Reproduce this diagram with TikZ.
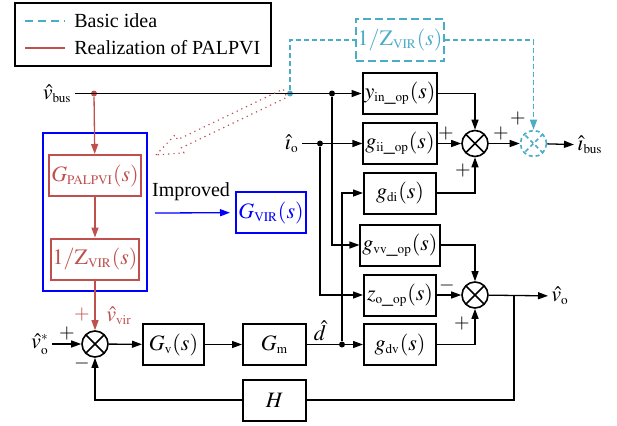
\documentclass[tikz,border=0pt]{standalone}
\usepackage{mathptmx}
\usepackage{fontspec}
\setmainfont{Liberation Serif}
\usetikzlibrary{arrows.meta}
\DeclareMathSizes{11}{11}{6.6}{5}
\definecolor{palred}{HTML}{C0504D}
\definecolor{idcyan}{HTML}{4BACC6}

\begin{document}
\begin{tikzpicture}[
    x=0.5pt, y=-0.5pt,
    wire/.style={line width=0.65pt},
    sig/.style={wire, -{Triangle[length=5pt,width=3.5pt]}},
    block/.style={draw, line width=1pt, minimum width=36pt,
        minimum height=20.5pt, inner sep=1pt, font=\fontsize{11}{13}\selectfont},
    sumcross/.style={},
    sum/.style={circle, draw, line width=0.8pt, minimum size=13pt, inner sep=0pt,
        path picture={\draw[line width=0.8pt, sumcross]
            (path picture bounding box.south west) -- (path picture bounding box.north east)
            (path picture bounding box.north west) -- (path picture bounding box.south east);}},
    dot/.style={circle, fill, inner sep=0pt, minimum size=3pt},
    lbl/.style={inner sep=1.5pt},
    sigl/.style={lbl, font=\fontsize{11}{13}\selectfont},
    redwire/.style={wire, palred},
    redsig/.style={sig, palred},
    redblock/.style={block, draw=palred, text=palred, minimum width=44pt},
    cyanwire/.style={wire, idcyan, dash pattern=on 2.5pt off 1.5pt},
    cyansig/.style={cyanwire, -{Triangle[length=5pt,width=3.5pt]}},
    cyanblock/.style={block, draw=idcyan, text=idcyan, dash pattern=on 4pt off 2pt,
        minimum width=42.5pt, minimum height=21pt}
]
    \useasboundingbox (0,0) rectangle (617,425);

    % legend
    \node[draw, line width=1pt, anchor=north west, minimum width=128pt,
        minimum height=31.5pt] (legend) at (14,2) {};
    \draw[idcyan, line width=0.65pt, dash pattern=on 4pt off 2.5pt] (25,21) -- (65,21);
    \draw[redwire] (25,48) -- (65,48);
    \node[lbl, anchor=west] (basic) at (71,21) {Basic idea};
    \node[lbl, anchor=west] (real) at (71,48) {Realization of PALPVI};

    % plant blocks
    \node[block] (yin) at (400,93.5) {$y_{\mathrm{in\_op}}(s)$};
    \node[block] (gii) at (400,143.5) {$g_{\mathrm{ii\_op}}(s)$};
    \node[block] (gdi) at (400,193) {$g_{\mathrm{di}}(s)$};
    \node[block] (gvv) at (400,245) {$g_{\mathrm{vv\_op}}(s)$};
    \node[block] (zo) at (400,295) {$z_{\mathrm{o\_op}}(s)$};
    \node[block] (gdv) at (400,344.5) {$g_{\mathrm{dv}}(s)$};
    \node[sum] (sumi) at (475,143.5) {};
    \node[sum] (sumv) at (475,295) {};
    \node[sum, draw=idcyan, dash pattern=on 2pt off 1.5pt,
        sumcross/.style={idcyan, dash pattern=on 2pt off 1.5pt}] (sumvir) at (533.5,143.5) {};

    % controller blocks
    \node[sum] (sumref) at (95,344) {};
    \node[block, minimum width=30.5pt] (gv) at (173.5,344.5) {$G_{\mathrm{v}}(s)$};
    \node[block, minimum width=31.5pt] (gm) at (274.5,344.5) {$G_{\mathrm{m}}$};
    \node[block, minimum width=31.5pt] (h) at (274.5,400) {$H$};

    % PALPVI path
    \node[draw=blue, line width=0.8pt, minimum width=52pt, minimum height=79pt] (realbox) at (95,212) {};
    \node[redblock] (gpal) at (95,175.5) {$G_{\mathrm{PALPVI}}(s)$};
    \node[redblock] (zinv) at (95,259) {$1/\mathrm{Z}_{\mathrm{VIR}}(s)$};
    \node[block, draw=blue, text=blue, minimum width=35pt] (gvir) at (271,212.5) {$G_{\mathrm{VIR}}(s)$};
    \node[lbl] (improved) at (191,192) {Improved};
    \coordinate (impstart) at (155,213);
    \node[cyanblock] (zc) at (400,40) {$1/\mathrm{Z}_{\mathrm{VIR}}(s)$};

    % signals
    \node[sigl, anchor=east] (vbus) at (75,93.5) {$\hat{v}_{\mathrm{bus}}$};
    \node[sigl, anchor=east] (io) at (302,143.5) {$\hat{\imath}_{\mathrm{o}}$};
    \node[sigl, anchor=west] (ibus) at (574,145) {$\hat{\imath}_{\mathrm{bus}}$};
    \node[sigl, anchor=west] (vo) at (548,296) {$\hat{v}_{\mathrm{o}}$};
    \node[sigl, anchor=east] (vref) at (52,344) {$\hat{v}_{\mathrm{o}}^{*}$};
    \node[sigl] (dhat) at (320,331) {$\hat{d}$};
    \node[sigl, text=palred] (vvir) at (119,316) {$\hat{v}_{\mathrm{vir}}$};

    \node[dot, palred] (redtap) at (94,93.5) {};
    \node[dot, idcyan] (cyantap) at (290,93.5) {};
    \node[dot] (ytap) at (332,93.5) {};
    \node[dot] (itap) at (320,143.5) {};
    \node[dot] (dtap) at (342,344.5) {};
    \coordinate (vtap) at (514,295);

    % signs
    \node[lbl] (s1) at (446,133) {$+$};
    \node[lbl] (s2) at (463,170) {$+$};
    \node[lbl] (s3) at (501,133) {$+$};
    \node[lbl] (s4) at (518,118) {$+$};
    \node[lbl] (s5) at (447,285) {$-$};
    \node[lbl] (s6) at (462,323) {$+$};
    \node[lbl] (s7) at (67,333) {$+$};
    \node[lbl] (s8) at (82,363) {$-$};
    \node[lbl, text=palred] (s9) at (82,314) {$+$};

    \draw[sig] (vbus) -- (yin);
    \draw[sig] (io) -- (gii);
    \draw[sig] (ytap) |- (gvv);
    \draw[sig] (itap) |- (zo);
    \draw[sig] (dtap) |- (gdi);
    \draw[sig] (yin) -| (sumi);
    \draw[sig] (gii) -- (sumi);
    \draw[sig] (gdi) -| (sumi);
    \draw[sig] (sumi) -- (sumvir);
    \draw[sig] (sumvir) -- (ibus);
    \draw[sig] (gvv) -| (sumv);
    \draw[sig] (zo) -- (sumv);
    \draw[sig] (gdv) -| (sumv);
    \draw[sig] (sumv) -- (vo);
    \draw[wire] (vtap) |- (h);
    \draw[sig] (h) -| (sumref);
    \draw[sig] (vref) -- (sumref);
    \draw[sig] (sumref) -- (gv);
    \draw[sig] (gv) -- (gm);
    \draw[sig] (gm) -- (gdv);

    \draw[redsig] (redtap) -- (gpal);
    \draw[redsig] (gpal) -- (zinv);
    \draw[redsig] (zinv) -- (sumref);
    \draw[sig, blue, shorten >=2.5pt] (impstart) -- (gvir);

    \draw[cyanwire] (cyantap) |- (zc);
    \draw[cyansig] (zc) -| (sumvir);

    % hollow arrow towards the PALPVI part
    \draw[palred, line width=0.6pt, dotted]
        (156,155) -- (175.1,134.8) -- (177.5,139.7) -- (283.1,89.1)
        -- (286.9,97.3) -- (181.4,147.8) -- (183.8,152.8) -- cycle;
\end{tikzpicture}
\end{document}
